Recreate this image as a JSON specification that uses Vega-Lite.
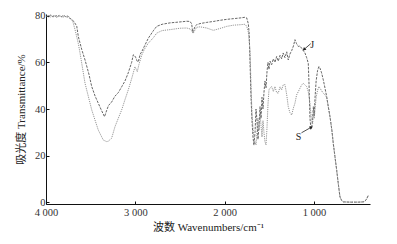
{
  "$schema": "https://vega.github.io/schema/vega-lite/v6.json",
  "width": 324,
  "height": 190,
  "autosize": {"type": "none"},
  "padding": {"left": 46, "top": 14, "right": 27, "bottom": 40},
  "background": "white",
  "config": {
    "view": {"stroke": null},
    "font": "Liberation Serif",
    "axis": {
      "grid": false,
      "domainColor": "#111",
      "domainWidth": 1,
      "tickColor": "#111",
      "tickSize": -3,
      "labelFont": "Liberation Serif",
      "labelFontSize": 10.5,
      "labelColor": "#333",
      "titleFont": "Liberation Serif, Noto Sans CJK SC",
      "titleFontWeight": "normal",
      "titleColor": "#222",
      "titleFontSize": 11
    }
  },
  "datasets": {
    "spectra": [
      {"wn": 3995, "T": 80.0, "s": "J"}, {"wn": 3970, "T": 79.4, "s": "J"}, {"wn": 3950, "T": 80.3, "s": "J"}, {"wn": 3930, "T": 79.6, "s": "J"}, {"wn": 3900, "T": 80.1, "s": "J"}, {"wn": 3880, "T": 79.2, "s": "J"}, {"wn": 3860, "T": 80.0, "s": "J"}, {"wn": 3830, "T": 79.5, "s": "J"}, {"wn": 3800, "T": 80.2, "s": "J"}, {"wn": 3780, "T": 79.4, "s": "J"}, {"wn": 3760, "T": 79.9, "s": "J"}, {"wn": 3740, "T": 79.0, "s": "J"}, {"wn": 3720, "T": 78.6, "s": "J"}, {"wn": 3700, "T": 78.0, "s": "J"}, {"wn": 3680, "T": 77.0, "s": "J"}, {"wn": 3656, "T": 75.5, "s": "J"}, {"wn": 3638, "T": 71.0, "s": "J"}, {"wn": 3600, "T": 65.5, "s": "J"}, {"wn": 3563, "T": 61.0, "s": "J"}, {"wn": 3520, "T": 55.0, "s": "J"}, {"wn": 3488, "T": 49.6, "s": "J"}, {"wn": 3450, "T": 45.5, "s": "J"}, {"wn": 3415, "T": 42.5, "s": "J"}, {"wn": 3380, "T": 39.5, "s": "J"}, {"wn": 3345, "T": 36.7, "s": "J"}, {"wn": 3320, "T": 39.5, "s": "J"}, {"wn": 3300, "T": 41.5, "s": "J"}, {"wn": 3265, "T": 43.0, "s": "J"}, {"wn": 3228, "T": 45.5, "s": "J"}, {"wn": 3191, "T": 47.0, "s": "J"}, {"wn": 3153, "T": 49.5, "s": "J"}, {"wn": 3116, "T": 52.0, "s": "J"}, {"wn": 3079, "T": 55.5, "s": "J"}, {"wn": 3041, "T": 60.0, "s": "J"}, {"wn": 3023, "T": 63.2, "s": "J"}, {"wn": 3010, "T": 63.0, "s": "J"}, {"wn": 2995, "T": 62.0, "s": "J"}, {"wn": 2980, "T": 60.5, "s": "J"}, {"wn": 2967, "T": 60.2, "s": "J"}, {"wn": 2945, "T": 63.5, "s": "J"}, {"wn": 2929, "T": 64.5, "s": "J"}, {"wn": 2855, "T": 70.3, "s": "J"}, {"wn": 2799, "T": 73.5, "s": "J"}, {"wn": 2761, "T": 75.4, "s": "J"}, {"wn": 2700, "T": 76.3, "s": "J"}, {"wn": 2612, "T": 76.9, "s": "J"}, {"wn": 2500, "T": 77.3, "s": "J"}, {"wn": 2425, "T": 77.6, "s": "J"}, {"wn": 2388, "T": 77.5, "s": "J"}, {"wn": 2369, "T": 76.5, "s": "J"}, {"wn": 2358, "T": 72.8, "s": "J"}, {"wn": 2345, "T": 74.0, "s": "J"}, {"wn": 2330, "T": 75.5, "s": "J"}, {"wn": 2313, "T": 76.1, "s": "J"}, {"wn": 2276, "T": 76.6, "s": "J"}, {"wn": 2201, "T": 77.1, "s": "J"}, {"wn": 2127, "T": 77.5, "s": "J"}, {"wn": 2052, "T": 78.0, "s": "J"}, {"wn": 1977, "T": 78.4, "s": "J"}, {"wn": 1903, "T": 78.7, "s": "J"}, {"wn": 1828, "T": 79.0, "s": "J"}, {"wn": 1772, "T": 79.3, "s": "J"}, {"wn": 1753, "T": 79.0, "s": "J"}, {"wn": 1735, "T": 76.5, "s": "J"}, {"wn": 1725, "T": 72.0, "s": "J"}, {"wn": 1716, "T": 60.0, "s": "J"}, {"wn": 1705, "T": 45.0, "s": "J"}, {"wn": 1694, "T": 35.0, "s": "J"}, {"wn": 1683, "T": 28.0, "s": "J"}, {"wn": 1672, "T": 24.5, "s": "J"}, {"wn": 1660, "T": 30.0, "s": "J"}, {"wn": 1649, "T": 40.0, "s": "J"}, {"wn": 1638, "T": 35.0, "s": "J"}, {"wn": 1627, "T": 27.0, "s": "J"}, {"wn": 1615, "T": 33.0, "s": "J"}, {"wn": 1604, "T": 41.0, "s": "J"}, {"wn": 1593, "T": 36.0, "s": "J"}, {"wn": 1582, "T": 45.0, "s": "J"}, {"wn": 1571, "T": 40.0, "s": "J"}, {"wn": 1560, "T": 47.0, "s": "J"}, {"wn": 1549, "T": 52.0, "s": "J"}, {"wn": 1537, "T": 49.0, "s": "J"}, {"wn": 1526, "T": 56.0, "s": "J"}, {"wn": 1515, "T": 60.0, "s": "J"}, {"wn": 1504, "T": 57.0, "s": "J"}, {"wn": 1492, "T": 60.5, "s": "J"}, {"wn": 1474, "T": 59.0, "s": "J"}, {"wn": 1455, "T": 61.5, "s": "J"}, {"wn": 1437, "T": 60.0, "s": "J"}, {"wn": 1418, "T": 62.5, "s": "J"}, {"wn": 1400, "T": 60.5, "s": "J"}, {"wn": 1380, "T": 63.0, "s": "J"}, {"wn": 1362, "T": 61.5, "s": "J"}, {"wn": 1345, "T": 64.0, "s": "J"}, {"wn": 1325, "T": 62.0, "s": "J"}, {"wn": 1305, "T": 64.5, "s": "J"}, {"wn": 1288, "T": 61.0, "s": "J"}, {"wn": 1270, "T": 63.5, "s": "J"}, {"wn": 1250, "T": 65.0, "s": "J"}, {"wn": 1230, "T": 67.0, "s": "J"}, {"wn": 1213, "T": 69.7, "s": "J"}, {"wn": 1195, "T": 68.0, "s": "J"}, {"wn": 1176, "T": 66.8, "s": "J"}, {"wn": 1157, "T": 67.0, "s": "J"}, {"wn": 1138, "T": 66.0, "s": "J"}, {"wn": 1120, "T": 65.0, "s": "J"}, {"wn": 1101, "T": 64.0, "s": "J"}, {"wn": 1082, "T": 62.0, "s": "J"}, {"wn": 1064, "T": 59.6, "s": "J"}, {"wn": 1055, "T": 50.0, "s": "J"}, {"wn": 1045, "T": 36.0, "s": "J"}, {"wn": 1035, "T": 32.0, "s": "J"}, {"wn": 1026, "T": 31.7, "s": "J"}, {"wn": 1015, "T": 36.0, "s": "J"}, {"wn": 1007, "T": 41.0, "s": "J"}, {"wn": 997, "T": 37.0, "s": "J"}, {"wn": 988, "T": 45.0, "s": "J"}, {"wn": 976, "T": 52.0, "s": "J"}, {"wn": 960, "T": 56.5, "s": "J"}, {"wn": 945, "T": 58.2, "s": "J"}, {"wn": 933, "T": 57.5, "s": "J"}, {"wn": 915, "T": 55.5, "s": "J"}, {"wn": 896, "T": 52.5, "s": "J"}, {"wn": 877, "T": 49.0, "s": "J"}, {"wn": 858, "T": 45.3, "s": "J"}, {"wn": 840, "T": 41.0, "s": "J"}, {"wn": 821, "T": 36.7, "s": "J"}, {"wn": 800, "T": 31.0, "s": "J"}, {"wn": 784, "T": 25.2, "s": "J"}, {"wn": 765, "T": 19.5, "s": "J"}, {"wn": 746, "T": 13.8, "s": "J"}, {"wn": 728, "T": 8.0, "s": "J"}, {"wn": 709, "T": 2.3, "s": "J"}, {"wn": 690, "T": 0.8, "s": "J"}, {"wn": 672, "T": 0.2, "s": "J"}, {"wn": 600, "T": 0.1, "s": "J"}, {"wn": 500, "T": 0.1, "s": "J"}, {"wn": 450, "T": 0.2, "s": "J"}, {"wn": 429, "T": 0.5, "s": "J"}, {"wn": 410, "T": 1.5, "s": "J"}, {"wn": 392, "T": 3.0, "s": "J"},

      {"wn": 3995, "T": 79.6, "s": "S"}, {"wn": 3975, "T": 80.2, "s": "S"}, {"wn": 3955, "T": 79.3, "s": "S"}, {"wn": 3935, "T": 80.0, "s": "S"}, {"wn": 3910, "T": 79.4, "s": "S"}, {"wn": 3890, "T": 80.3, "s": "S"}, {"wn": 3865, "T": 79.5, "s": "S"}, {"wn": 3845, "T": 80.1, "s": "S"}, {"wn": 3815, "T": 79.2, "s": "S"}, {"wn": 3790, "T": 79.8, "s": "S"}, {"wn": 3765, "T": 79.1, "s": "S"}, {"wn": 3745, "T": 79.6, "s": "S"}, {"wn": 3720, "T": 78.4, "s": "S"}, {"wn": 3700, "T": 77.5, "s": "S"}, {"wn": 3675, "T": 74.0, "s": "S"}, {"wn": 3638, "T": 68.0, "s": "S"}, {"wn": 3619, "T": 64.0, "s": "S"}, {"wn": 3563, "T": 51.0, "s": "S"}, {"wn": 3488, "T": 39.6, "s": "S"}, {"wn": 3415, "T": 31.0, "s": "S"}, {"wn": 3359, "T": 26.7, "s": "S"}, {"wn": 3320, "T": 26.0, "s": "S"}, {"wn": 3303, "T": 26.2, "s": "S"}, {"wn": 3265, "T": 27.5, "s": "S"}, {"wn": 3228, "T": 32.4, "s": "S"}, {"wn": 3191, "T": 36.0, "s": "S"}, {"wn": 3153, "T": 39.6, "s": "S"}, {"wn": 3116, "T": 44.0, "s": "S"}, {"wn": 3079, "T": 48.2, "s": "S"}, {"wn": 3041, "T": 53.0, "s": "S"}, {"wn": 3004, "T": 58.1, "s": "S"}, {"wn": 2990, "T": 57.0, "s": "S"}, {"wn": 2978, "T": 56.0, "s": "S"}, {"wn": 2960, "T": 59.0, "s": "S"}, {"wn": 2929, "T": 63.0, "s": "S"}, {"wn": 2900, "T": 65.5, "s": "S"}, {"wn": 2855, "T": 68.2, "s": "S"}, {"wn": 2799, "T": 70.5, "s": "S"}, {"wn": 2761, "T": 72.5, "s": "S"}, {"wn": 2700, "T": 73.6, "s": "S"}, {"wn": 2612, "T": 74.0, "s": "S"}, {"wn": 2500, "T": 74.6, "s": "S"}, {"wn": 2425, "T": 74.7, "s": "S"}, {"wn": 2388, "T": 74.3, "s": "S"}, {"wn": 2369, "T": 73.5, "s": "S"}, {"wn": 2351, "T": 72.5, "s": "S"}, {"wn": 2330, "T": 74.0, "s": "S"}, {"wn": 2313, "T": 75.0, "s": "S"}, {"wn": 2276, "T": 75.2, "s": "S"}, {"wn": 2201, "T": 74.7, "s": "S"}, {"wn": 2127, "T": 73.7, "s": "S"}, {"wn": 2052, "T": 74.5, "s": "S"}, {"wn": 1977, "T": 75.4, "s": "S"}, {"wn": 1903, "T": 75.9, "s": "S"}, {"wn": 1828, "T": 76.1, "s": "S"}, {"wn": 1772, "T": 76.3, "s": "S"}, {"wn": 1753, "T": 75.4, "s": "S"}, {"wn": 1735, "T": 73.0, "s": "S"}, {"wn": 1716, "T": 65.0, "s": "S"}, {"wn": 1705, "T": 50.0, "s": "S"}, {"wn": 1694, "T": 38.0, "s": "S"}, {"wn": 1683, "T": 32.0, "s": "S"}, {"wn": 1672, "T": 28.0, "s": "S"}, {"wn": 1660, "T": 26.0, "s": "S"}, {"wn": 1649, "T": 24.6, "s": "S"}, {"wn": 1638, "T": 30.0, "s": "S"}, {"wn": 1627, "T": 36.0, "s": "S"}, {"wn": 1615, "T": 31.0, "s": "S"}, {"wn": 1604, "T": 38.0, "s": "S"}, {"wn": 1593, "T": 33.0, "s": "S"}, {"wn": 1582, "T": 28.0, "s": "S"}, {"wn": 1571, "T": 35.0, "s": "S"}, {"wn": 1560, "T": 30.0, "s": "S"}, {"wn": 1549, "T": 26.0, "s": "S"}, {"wn": 1537, "T": 24.6, "s": "S"}, {"wn": 1526, "T": 32.0, "s": "S"}, {"wn": 1515, "T": 42.0, "s": "S"}, {"wn": 1504, "T": 48.2, "s": "S"}, {"wn": 1492, "T": 49.0, "s": "S"}, {"wn": 1474, "T": 49.6, "s": "S"}, {"wn": 1455, "T": 47.5, "s": "S"}, {"wn": 1437, "T": 49.6, "s": "S"}, {"wn": 1418, "T": 47.0, "s": "S"}, {"wn": 1400, "T": 46.8, "s": "S"}, {"wn": 1380, "T": 49.5, "s": "S"}, {"wn": 1362, "T": 48.2, "s": "S"}, {"wn": 1345, "T": 50.3, "s": "S"}, {"wn": 1325, "T": 50.5, "s": "S"}, {"wn": 1305, "T": 46.0, "s": "S"}, {"wn": 1288, "T": 41.0, "s": "S"}, {"wn": 1270, "T": 38.5, "s": "S"}, {"wn": 1250, "T": 37.4, "s": "S"}, {"wn": 1230, "T": 40.5, "s": "S"}, {"wn": 1213, "T": 42.5, "s": "S"}, {"wn": 1195, "T": 46.0, "s": "S"}, {"wn": 1176, "T": 47.4, "s": "S"}, {"wn": 1157, "T": 48.9, "s": "S"}, {"wn": 1138, "T": 50.3, "s": "S"}, {"wn": 1120, "T": 51.0, "s": "S"}, {"wn": 1101, "T": 50.3, "s": "S"}, {"wn": 1082, "T": 49.6, "s": "S"}, {"wn": 1064, "T": 47.4, "s": "S"}, {"wn": 1045, "T": 42.5, "s": "S"}, {"wn": 1030, "T": 36.0, "s": "S"}, {"wn": 1015, "T": 33.8, "s": "S"}, {"wn": 1007, "T": 38.0, "s": "S"}, {"wn": 997, "T": 36.0, "s": "S"}, {"wn": 988, "T": 40.0, "s": "S"}, {"wn": 976, "T": 45.0, "s": "S"}, {"wn": 960, "T": 48.0, "s": "S"}, {"wn": 945, "T": 49.6, "s": "S"}, {"wn": 933, "T": 49.0, "s": "S"}, {"wn": 915, "T": 47.8, "s": "S"}, {"wn": 896, "T": 46.8, "s": "S"}, {"wn": 877, "T": 46.0, "s": "S"}, {"wn": 858, "T": 45.0, "s": "S"}, {"wn": 840, "T": 41.0, "s": "S"}, {"wn": 821, "T": 36.7, "s": "S"}, {"wn": 800, "T": 31.0, "s": "S"}, {"wn": 784, "T": 25.2, "s": "S"}, {"wn": 765, "T": 19.5, "s": "S"}, {"wn": 746, "T": 13.8, "s": "S"}, {"wn": 728, "T": 8.0, "s": "S"}, {"wn": 709, "T": 2.3, "s": "S"}, {"wn": 690, "T": 0.8, "s": "S"}, {"wn": 672, "T": 0.2, "s": "S"}, {"wn": 600, "T": 0.1, "s": "S"}, {"wn": 500, "T": 0.1, "s": "S"}, {"wn": 450, "T": 0.2, "s": "S"}, {"wn": 429, "T": 0.5, "s": "S"}, {"wn": 410, "T": 1.5, "s": "S"}, {"wn": 392, "T": 3.0, "s": "S"}
    ],
    "arrows": [
      {"lab": "J", "x1": 1036, "y1": 68.0, "x2": 1112, "y2": 65.5, "tx": 1020, "ty": 67.5},
      {"lab": "S", "x1": 1140, "y1": 29.8, "x2": 1030, "y2": 32.2, "tx": 1172, "ty": 28.0}
    ]
  },
  "layer": [
    {
      "data": {"name": "spectra"},
      "mark": {"type": "line", "strokeWidth": 0.9, "interpolate": "linear"},
      "encoding": {
        "x": {
          "field": "wn", "type": "quantitative",
          "scale": {"domain": [373, 4000], "reverse": true, "nice": false, "zero": false},
          "axis": {
            "values": [4000, 3000, 2000, 1000],
            "labelExpr": "replace(format(datum.value, ','), ',', ' ')",
            "title": "波数  Wavenumbers/cm⁻¹",
            "titlePadding": 4,
            "labelPadding": 6,
            "labelFlush": false
          }
        },
        "y": {
          "field": "T", "type": "quantitative",
          "scale": {"domain": [-0.7, 80.7], "nice": false, "zero": false},
          "axis": {
            "values": [0, 10, 20, 30, 40, 50, 60, 70, 80],
            "title": "吸光度 Transmittance/%",
            "titlePadding": 8,
            "labelPadding": 4
          }
        },
        "detail": {"field": "s"},
        "color": {"field": "s", "type": "nominal", "scale": {"domain": ["J", "S"], "range": ["#555555", "#888888"]}, "legend": null},
        "strokeDash": {"field": "s", "type": "nominal", "scale": {"domain": ["J", "S"], "range": [[2.5, 1.2], [1.2, 1]]}, "legend": null}
      }
    },
    {
      "data": {"name": "arrows"},
      "mark": {"type": "rule", "color": "#222", "strokeWidth": 0.8},
      "encoding": {
        "x": {"field": "x1", "type": "quantitative"},
        "y": {"field": "y1", "type": "quantitative"},
        "x2": {"field": "x2"},
        "y2": {"field": "y2"}
      }
    },
    {
      "data": {"name": "arrows"},
      "transform": [{"filter": "datum.lab == 'J'"}],
      "mark": {"type": "point", "shape": "triangle-up", "filled": true, "color": "#222", "size": 14, "angle": 228, "opacity": 1},
      "encoding": {
        "x": {"field": "x2", "type": "quantitative"},
        "y": {"field": "y2", "type": "quantitative"}
      }
    },
    {
      "data": {"name": "arrows"},
      "transform": [{"filter": "datum.lab == 'S'"}],
      "mark": {"type": "point", "shape": "triangle-up", "filled": true, "color": "#222", "size": 14, "angle": 60, "opacity": 1},
      "encoding": {
        "x": {"field": "x2", "type": "quantitative"},
        "y": {"field": "y2", "type": "quantitative"}
      }
    },
    {
      "data": {"name": "arrows"},
      "mark": {"type": "text", "font": "Liberation Serif", "fontSize": 10, "color": "#222", "align": "center", "baseline": "middle"},
      "encoding": {
        "x": {"field": "tx", "type": "quantitative"},
        "y": {"field": "ty", "type": "quantitative"},
        "text": {"field": "lab"}
      }
    }
  ]
}
